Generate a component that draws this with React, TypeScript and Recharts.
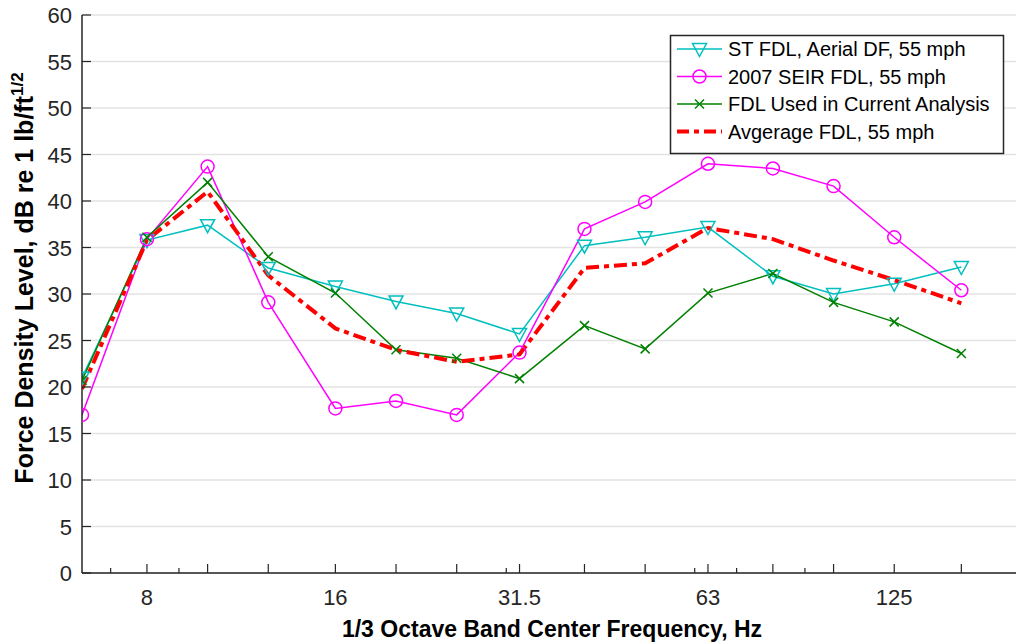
import React from 'react'
import { LineChart, Line, XAxis, YAxis, CartesianGrid } from 'recharts'

const FREQS = [6.3, 8, 10, 12.5, 16, 20, 25, 31.5, 40, 50, 63, 80, 100, 125, 160]
const ST_FDL = [21.0, 35.8, 37.4, 32.8, 30.8, 29.2, 27.9, 25.7, 35.2, 36.1, 37.2, 31.9, 30.0, 31.1, 32.9]
const SEIR_FDL = [17.0, 35.9, 43.7, 29.1, 17.7, 18.5, 17.0, 23.7, 37.0, 39.9, 44.0, 43.5, 41.6, 36.1, 30.4]
const USED_FDL = [20.7, 36.1, 42.0, 34.0, 30.1, 24.0, 23.1, 20.9, 26.6, 24.1, 30.1, 32.2, 29.1, 27.0, 23.6]
const AVG_FDL = [19.8, 35.8, 41.0, 32.0, 26.3, 24.0, 22.7, 23.5, 32.8, 33.3, 37.1, 35.9, 33.6, 31.5, 29.0]

const MAJOR_TICKS = [8, 10, 12.5, 16, 20, 25, 31.5, 40, 50, 63, 80, 100, 125, 160]
const MINOR_TICKS = [7, 9, 30, 60, 70, 90]
const LABELED_TICKS = [8, 16, 31.5, 63, 125]
const Y_TICKS = [0, 5, 10, 15, 20, 25, 30, 35, 40, 45, 50, 55, 60]

const LEGEND = [
  { key: 'st', name: 'ST FDL, Aerial DF, 55 mph' },
  { key: 'seir', name: '2007 SEIR FDL, 55 mph' },
  { key: 'used', name: 'FDL Used in Current Analysis' },
  { key: 'avg', name: 'Avgerage FDL, 55 mph' },
]

const CYAN = '#00bfbf'
const MAGENTA = '#ff00ff'
const GREEN = '#008000'
const RED = '#ff0000'
const AXIS = '#262626'
const FONT = '"Liberation Sans", Arial, sans-serif'

const data = FREQS.map((f, i) => ({
  f,
  st: ST_FDL[i],
  seir: SEIR_FDL[i],
  used: USED_FDL[i],
  avg: AVG_FDL[i],
}))

const ALL_X_TICKS = [...MAJOR_TICKS, ...MINOR_TICKS].sort((a, b) => a - b)

// markers
const triangle = (cx: number, cy: number, key?: any) => (
  <polygon key={key} points={`${cx - 7},${cy - 5.5} ${cx + 7},${cy - 5.5} ${cx},${cy + 7.5}`}
    fill="none" stroke={CYAN} strokeWidth={1.5} />
)
const circle = (cx: number, cy: number, key?: any) => (
  <circle key={key} cx={cx} cy={cy} r={6.5} fill="none" stroke={MAGENTA} strokeWidth={1.5} />
)
const cross = (cx: number, cy: number, key?: any) => (
  <g key={key} stroke={GREEN} strokeWidth={1.5}>
    <line x1={cx - 4.5} y1={cy - 4.5} x2={cx + 4.5} y2={cy + 4.5} />
    <line x1={cx - 4.5} y1={cy + 4.5} x2={cx + 4.5} y2={cy - 4.5} />
  </g>
)

const dotOf = (fn: typeof triangle) => (p: any) => {
  if (p.cx == null || p.cy == null) return <g key={p.index} />
  return fn(p.cx, p.cy, p.index)
}

const BottomTick = ({ x, y, payload }: any) => {
  const v = payload.value
  const len = MINOR_TICKS.includes(v) ? 5 : 9
  return (
    <g>
      <line x1={x} x2={x} y1={y} y2={y - len} stroke={AXIS} strokeWidth={1.2} />
      {LABELED_TICKS.includes(v) && (
        <text x={x} y={y + 32} textAnchor="middle" fontSize={22} fill="#262626" fontFamily={FONT}>{v}</text>
      )}
    </g>
  )
}

const TopTick = ({ x, y, payload }: any) => {
  const len = MINOR_TICKS.includes(payload.value) ? 5 : 9
  return <line x1={x} x2={x} y1={y} y2={y + len} stroke={AXIS} strokeWidth={1.2} />
}

const LeftTick = ({ x, y, payload }: any) => (
  <g>
    <line x1={x} x2={x + 9} y1={y} y2={y} stroke={AXIS} strokeWidth={1.2} />
    <text x={x - 10} y={y + 8} textAnchor="end" fontSize={22} fill="#262626" fontFamily={FONT}>{payload.value}</text>
  </g>
)

const RightTick = ({ x, y }: any) => (
  <line x1={x} x2={x - 9} y1={y} y2={y} stroke={AXIS} strokeWidth={1.2} />
)

function Legend() {
  const rows = [
    { color: CYAN, marker: triangle, dash: undefined, width: 1.5 },
    { color: MAGENTA, marker: circle, dash: undefined, width: 1.5 },
    { color: GREEN, marker: cross, dash: undefined, width: 1.5 },
    { color: RED, marker: null, dash: '12 5 5 5', width: 4 },
  ]
  return (
    <svg width={1016} height={643} style={{ position: 'absolute', left: 0, top: 0, pointerEvents: 'none' }}>
      <rect x={670.5} y={35.5} width={333} height={118} fill="#fff" stroke={AXIS} strokeWidth={1.5} />
      {LEGEND.map((item, i) => {
        const r = rows[i]
        const cy = 49 + i * 27.5
        return (
          <g key={item.key}>
            <line x1={677} x2={722} y1={cy} y2={cy} stroke={r.color} strokeWidth={r.width} strokeDasharray={r.dash} />
            {r.marker && r.marker(699.5, cy)}
            <text x={728} y={cy + 7} fontSize={20} fill="#000" fontFamily={FONT}>{item.name}</text>
          </g>
        )
      })}
    </svg>
  )
}

export default function App() {
  return (
    <div style={{ position: 'absolute', left: 0, top: 0, width: 1016, height: 643, overflow: 'hidden', background: '#fff' }}>
      <LineChart width={1030} height={643} data={data} margin={{ top: 15, right: 8, bottom: 0, left: 0 }}>
        <CartesianGrid vertical={false} stroke="#e3e3e3" strokeWidth={1.5} />
        <XAxis dataKey="f" type="number" scale="log" domain={[6.3, 200]} allowDataOverflow
          ticks={ALL_X_TICKS} interval={0} tickSize={0} tickMargin={0} height={70}
          axisLine={{ stroke: AXIS, strokeWidth: 1.5 }} tickLine={false} tick={<BottomTick />} />
        <XAxis xAxisId="top" orientation="top" dataKey="f" type="number" scale="log" domain={[6.3, 200]} allowDataOverflow
          ticks={ALL_X_TICKS} interval={0} tickSize={0} tickMargin={0} height={0}
          axisLine={{ stroke: AXIS, strokeWidth: 1.5 }} tickLine={false} tick={<TopTick />} />
        <YAxis type="number" domain={[0, 60]} ticks={Y_TICKS} interval={0} width={82} tickSize={0} tickMargin={0}
          axisLine={{ stroke: AXIS, strokeWidth: 1.5 }} tickLine={false} tick={<LeftTick />} />
        <YAxis yAxisId="right" orientation="right" type="number" domain={[0, 60]} ticks={Y_TICKS} interval={0} width={0}
          tickSize={0} tickMargin={0} axisLine={{ stroke: AXIS, strokeWidth: 1.5 }} tickLine={false} tick={<RightTick />} />
        <Line dataKey="st" stroke={CYAN} strokeWidth={1.5} dot={dotOf(triangle)} activeDot={false} isAnimationActive={false} />
        <Line dataKey="seir" stroke={MAGENTA} strokeWidth={1.5} dot={dotOf(circle)} activeDot={false} isAnimationActive={false} />
        <Line dataKey="used" stroke={GREEN} strokeWidth={1.5} dot={dotOf(cross)} activeDot={false} isAnimationActive={false} />
        <Line dataKey="avg" stroke={RED} strokeWidth={4} strokeDasharray="13 5 5 5" dot={false} activeDot={false} isAnimationActive={false} />
      </LineChart>
      <svg width={1016} height={643} style={{ position: 'absolute', left: 0, top: 0, pointerEvents: 'none' }}>
        <text transform="translate(33, 278) rotate(-90)" textAnchor="middle" fontSize={25} fontWeight="bold" fill="#000" fontFamily={FONT}>
          Force Density Level, dB re 1 lb/ft<tspan dy={-10} fontSize={17}>1/2</tspan>
        </text>
        <text x={552} y={637} textAnchor="middle" fontSize={23} fontWeight="bold" fill="#000" fontFamily={FONT}>
          1/3 Octave Band Center Frequency, Hz
        </text>
      </svg>
      <Legend />
    </div>
  )
}
